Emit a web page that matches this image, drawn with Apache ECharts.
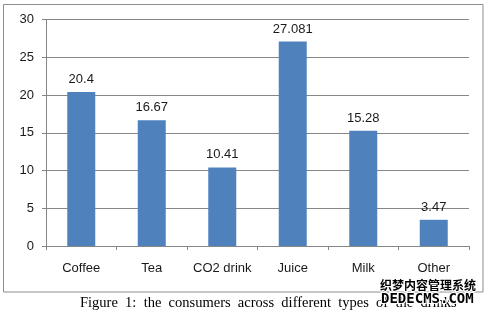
<!DOCTYPE html>
<html><head><meta charset="utf-8">
<script src="https://cdn.jsdelivr.net/npm/echarts@6/dist/echarts.min.js"></script>
<style>html,body{margin:0;padding:0;background:#fff}#c{width:489px;height:312px}</style>
</head><body><div id="c"></div>
<script>
const categories = ['Coffee', 'Tea', 'CO2 drink', 'Juice', 'Milk', 'Other'];
const values = [20.4, 16.67, 10.41, 27.081, 15.28, 3.47];
const yTicks = [0, 5, 10, 15, 20, 25, 30];
const caption = 'Figure  1:  the  consumers  across  different  types  of  the  drinks';

const chart = echarts.init(document.getElementById('c'), null, {renderer: 'canvas'});
const font = '"Liberation Sans", Arial, sans-serif';
chart.setOption({
  animation: false,
  grid: {left: 46, right: 20, top: 19.5, bottom: 66, containLabel: false},
  xAxis: {
    type: 'category', data: categories,
    axisLine: {lineStyle: {color: '#868686', width: 1}},
    axisTick: {show: true, length: 4, lineStyle: {color: '#868686'}},
    axisLabel: {color: '#1a1a1a', fontSize: 13, fontFamily: font, margin: 16, interval: 0}
  },
  yAxis: {
    type: 'value', min: yTicks[0], max: yTicks[yTicks.length - 1], interval: 5,
    axisLine: {show: true, lineStyle: {color: '#868686', width: 1}},
    axisTick: {show: true, length: 4, lineStyle: {color: '#868686'}},
    axisLabel: {color: '#1a1a1a', fontSize: 13, fontFamily: font, margin: 12},
    splitLine: {lineStyle: {color: '#868686', width: 1}}
  },
  series: [{
    type: 'bar', data: values, barWidth: 28,
    itemStyle: {color: '#4F81BD'},
    label: {show: true, position: 'top', distance: 6, color: '#1a1a1a', fontSize: 13, fontFamily: font}
  }],
  graphic: [
    {type: 'rect', shape: {x: 3.5, y: 4.5, width: 479.5, height: 287.5}, style: {fill: null, stroke: '#8c8c8c', lineWidth: 1}, silent: true},
    {type: 'text', x: 80, y: 303, style: {text: caption, font: '14.5px "Liberation Serif", "Times New Roman", serif', fill: '#000', verticalAlign: 'middle', textAlign: 'left'}},
    {type: 'text', x: 380, y: 285, style: {text: '织梦内容管理系统', font: 'bold 12px "Noto Sans CJK SC", sans-serif', fill: '#000', stroke: '#fff', lineWidth: 2, verticalAlign: 'middle', textAlign: 'left'}},
    {type: 'text', x: 381, y: 299, style: {text: 'DEDECMS.COM', font: 'bold 14px "DejaVu Sans Mono", monospace', fill: '#000', stroke: '#fff', lineWidth: 2, verticalAlign: 'middle', textAlign: 'left'}}
  ]
});
</script></body></html>
